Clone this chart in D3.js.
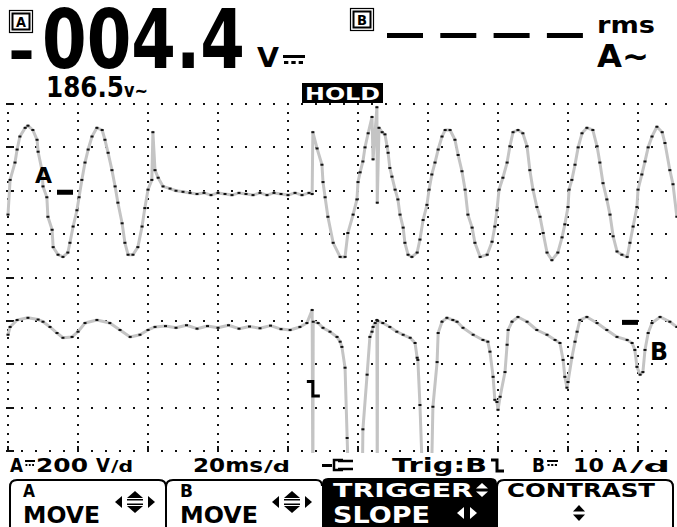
<!DOCTYPE html>
<html>
<head>
<meta charset="utf-8">
<script src="https://cdn.jsdelivr.net/npm/d3@7"></script>
<style>
    html, body { margin: 0; padding: 0; background: #fff; }
    svg { display: block; }
    text { font-family: 'DejaVu Sans', sans-serif; font-weight: bold; }
</style>
</head>
<body>
<script>
'use strict';

// channel A: [time ms, volts]
var traceA = [
    [0,-110],[0.6,50],[2.0,130],[2.6,190],[3.4,250],[4.9,290],[5.7,300],[7.1,280],[8.3,235],[8.6,180],
    [9.7,95],[10.0,20],[11.1,-30],[11.4,-120],[12.6,-180],[12.9,-260],[14.3,-295],[15.7,-305],[17.1,-285],
    [17.7,-240],[18.6,-165],[19.7,-90],[20.3,-30],[21.1,50],[22.0,130],[22.9,190],[24.0,250],[25.4,290],
    [26.9,280],[27.7,235],[28.6,175],[29.7,95],[30.6,20],[31.4,-55],[32.6,-150],[33.4,-240],[34.3,-295],
    [35.7,-295],[37.1,-260],[38.3,-165],[39.1,-80],[40.0,5],[41.1,50],[41.4,270],[42.0,95],[42.9,60],
    [44.3,20],[46.3,10],[48.0,0],[50.0,-5],[52,-10],[54,-15],[56,-10],[58,-20],[60,-10],[62,-15],[64,-20],
    [66,-10],[68,-15],[70,-20],[72,-10],[74,-20],[76,-10],[78,-15],[80,-20],[82,-10],[84,-20],[86,-10],
    [86.9,-15],[87.1,270],[88.3,195],[89.7,120],[90.0,40],[90.6,-30],[91.4,-120],[92.9,-240],[94.9,-305],
    [96.3,-305],[97.1,-195],[98.6,-110],[99.7,-40],[100.0,40],[100.6,85],[101.4,135],[102.0,200],[102.9,265],
    [104.0,340],[104.3,145],[105.4,385],[105.5,-55],[106.0,290],[106.9,270],[107.7,260],[108.3,205],
    [108.6,175],[109.1,105],[109.7,65],[110.6,5],[111.4,-40],[112.0,-110],[112.9,-170],[113.4,-240],
    [114.3,-295],[115.4,-305],[116.9,-285],[117.7,-225],[118.6,-135],[119.7,-65],[120.3,5],[121.1,75],
    [122.0,130],[122.9,190],[124.0,250],[124.9,280],[126.3,280],[127.7,235],[128.6,165],[129.7,90],
    [130.6,5],[131.4,-110],[132.6,-170],[133.4,-240],[134.9,-305],[136.9,-295],[138.3,-235],[139.1,-165],
    [139.7,-90],[140.3,5],[141.4,60],[142.6,130],[143.4,205],[144.3,270],[145.7,280],[147.1,265],[148.3,205],
    [149.1,95],[150.0,5],[151.1,-75],[152.0,-120],[152.9,-195],[154.0,-285],[155.4,-320],[157.1,-285],
    [158.3,-215],[159.1,-155],[160.0,-75],[160.3,5],[161.1,50],[162.0,120],[162.9,200],[164.0,265],
    [165.4,290],[167.1,280],[168.3,205],[169.1,130],[170.0,35],[171.1,-40],[172.0,-110],[172.9,-210],
    [174.0,-280],[175.4,-295],[176.9,-305],[177.7,-240],[178.6,-165],[179.7,-75],[180.0,5],[181.1,75],
    [182.0,135],[182.9,200],[184.0,250],[185.4,295],[186.9,270],[187.7,220],[189.1,95],[190.0,30],[191.1,-120]
];

// channel B: [time ms, amps]
var traceB = [
    [0,-3.2],[0.6,-1.4],[2.6,0.2],[5.7,0.7],[8.6,0.3],[10.0,-0.2],[12.0,-1.4],[14.0,-2.8],[15.7,-3.9],
    [18.3,-3.7],[20.0,-2.5],[22.0,-0.5],[25.4,0.2],[29.1,-0.5],[32.0,-2.1],[34.9,-3.7],[37.7,-3.2],[40.0,-2.1],
    [42.0,-1.4],[45,-1.2],[48,-1.6],[51,-1.0],[54,-1.8],[57,-1.2],[60,-1.6],[63,-1.0],[66,-1.8],[69,-1.3],
    [72,-1.7],[75,-1.1],[78,-1.9],[80.6,-2.1],[83.4,-1.4],[85.4,-0.5],[86.9,2.5],[87.1,-40],[87.2,-0.2],
    [88.6,-0.5],[90.0,-1.6],[92.0,-2.5],[94.0,-3.7],[94.9,-4.8],[95.4,-6.0],[96.3,-10.8],[96.9,-27],[97.4,-40],
    [101.2,-40],[101.4,-25],[102.6,-12.4],[103.4,-3.7],[104.0,-2.5],[104.3,-1.4],[104.9,-0.5],[105.4,0.2],
    [105.5,-40],[105.6,0.0],[107.1,-0.5],[109.1,-1.4],[111.1,-2.5],[112.9,-3.2],[114.9,-3.9],[116.3,-5.1],
    [116.9,-8.5],[117.1,-9.0],[117.7,-19.4],[118.6,-40],[120.9,-40],[121.4,-19.8],[122.6,-9.5],[122.9,-2.8],
    [124.0,-0.2],[125.4,0.7],[127.1,0.2],[128.3,-0.2],[130.0,-1.6],[132.9,-3.2],[135.7,-4.4],[137.1,-4.8],
    [137.7,-7.1],[138.6,-12.9],[139.1,-18.2],[139.7,-18.7],[140.0,-20.5],[140.6,-17.5],[142.0,-11.8],
    [142.6,-5.5],[142.9,-2.1],[144.0,-0.2],[145.7,0.9],[148.3,-0.2],[151.1,-2.1],[154.0,-3.2],[156.3,-4.4],
    [157.7,-5.1],[158.6,-9.0],[159.1,-12.9],[159.7,-15.4],[160.0,-14.1],[161.1,-8.5],[162.0,-4.8],
    [162.6,-2.5],[163.4,0.2],[165.4,0.9],[168.3,-0.5],[171.1,-2.1],[174.0,-3.7],[176.9,-4.4],[178.3,-5.1],
    [179.1,-6.7],[179.7,-10.6],[180.6,-12.4],[181.4,-11.8],[182.0,-6.7],[182.9,-2.8],[184.0,-0.5],
    [186.3,0.9],[189.1,-0.2],[191.1,-1.4]
];

var TRIGGER_TIME = 87.1;

// readout texts
var READING_A = '-004.4';
var READING_A_UNIT = 'V';
var READING_A_AC = '186.5';
var READING_A_AC_UNIT = 'v~';
var READING_B = '----';
var READING_B_MODE = 'rms';
var READING_B_UNIT = 'A~';
var HOLD_LABEL = 'HOLD';

var statusItems = ['A', '200', 'V', '20ms', 'Trig:B', 'B', '10', 'A'];
var softkeyTop = ['A', 'B', 'TRIGGER', 'CONTRAST'];
var softkeyBottom = ['MOVE', 'MOVE', 'SLOPE', ''];

var svg = d3.select('body').append('svg')
    .attr('width', 677)
    .attr('height', 527);

svg.append('rect')
    .attr('width', 677)
    .attr('height', 527)
    .attr('fill', '#fff');

// 10 x 20ms horizontally, 8 divisions vertically
var x = d3.scaleLinear().domain([0, 200]).range([8, 708]);
var yA = d3.scaleLinear().domain([-1200, 400]).range([451, 104]);
var yB = d3.scaleLinear().domain([-30, 50]).range([451, 104]);

// ---- dotted graticule ----
var grid = svg.append('g').attr('fill', '#111');

var majorT = d3.range(0, 201, 20),
    minorT = d3.range(0, 201, 4),
    majorV = d3.range(-1200, 401, 200),
    minorV = d3.range(-1200, 401, 40);

grid.selectAll('rect.vdot')
    .data(d3.cross(majorT, minorV))
    .enter().append('rect')
    .attr('class', 'vdot')
    .attr('x', function(d) { return Math.round(x(d[0])) - 1; })
    .attr('y', function(d) { return Math.round(yA(d[1])) - 1; })
    .attr('width', 2).attr('height', 2);

grid.selectAll('rect.hdot')
    .data(d3.cross(minorT, majorV))
    .enter().append('rect')
    .attr('class', 'hdot')
    .attr('x', function(d) { return Math.round(x(d[0])) - 1; })
    .attr('y', function(d) { return Math.round(yA(d[1])) - 1; })
    .attr('width', 2).attr('height', 2);

grid.selectAll('rect.ltick')
    .data(majorV)
    .enter().append('rect')
    .attr('class', 'ltick')
    .attr('x', x(0) - 2)
    .attr('y', function(d) { return Math.round(yA(d)) - 1; })
    .attr('width', 8).attr('height', 2);

grid.selectAll('rect.btick')
    .data(majorT)
    .enter().append('rect')
    .attr('class', 'btick')
    .attr('x', function(d) { return Math.round(x(d)) - 1; })
    .attr('y', yA(-1200) - 5)
    .attr('width', 2).attr('height', 5);

// ---- traces ----
svg.append('clipPath').attr('id', 'screen')
    .append('rect')
    .attr('x', 0).attr('y', 100)
    .attr('width', 677).attr('height', yA(-1200) + 2 - 100);

function drawTrace(data, yScale) {
    var g = svg.append('g').attr('clip-path', 'url(#screen)');
    var line = d3.line()
        .x(function(d) { return x(d[0]); })
        .y(function(d) { return yScale(d[1]); });

    g.append('path')
        .datum(data)
        .attr('d', line)
        .attr('fill', 'none')
        .attr('stroke', '#c4c4c4')
        .attr('stroke-width', 3)
        .attr('stroke-linejoin', 'round');

    g.selectAll('rect')
        .data(data)
        .enter().append('rect')
        .attr('x', function(d) { return x(d[0]) - 1.5; })
        .attr('y', function(d) { return yScale(d[1]) - 1; })
        .attr('width', 3).attr('height', 2)
        .attr('fill', '#111');
}

drawTrace(traceA, yA);
drawTrace(traceB, yB);

// ---- text helper ----
function fitText(sel, px, py, size, len, str, fill) {
    return sel.append('text')
        .attr('x', px).attr('y', py)
        .attr('font-size', size)
        .attr('textLength', len)
        .attr('lengthAdjust', 'spacingAndGlyphs')
        .style('fill', fill || '#000')
        .text(str);
}

// trace markers
fitText(svg, 35, 183, 22, 17, 'A');
svg.append('rect').attr('x', 57).attr('y', yA(0) - 1).attr('width', 16).attr('height', 5).attr('fill', '#000');

fitText(svg, 650, 360, 24, 18, 'B');
svg.append('rect').attr('x', 622).attr('y', yB(0) - 1).attr('width', 16).attr('height', 5).attr('fill', '#000');

function slopeSymbol(px, py, h, w) {
    return 'M' + (px - 6) + ',' + py + 'H' + px + 'V' + (py + h) + 'H' + (px + w);
}

svg.append('path')
    .attr('d', slopeSymbol(x(TRIGGER_TIME), 381.5, 14.5, 7))
    .attr('fill', 'none').attr('stroke', '#000').attr('stroke-width', 3);

// ---- header readouts ----
function channelIcon(px, py, label) {
    svg.append('rect').attr('x', px + 0.5).attr('y', py + 0.5).attr('width', 23).attr('height', 22)
        .attr('fill', 'none').attr('stroke', '#000').attr('stroke-width', 1.2);
    svg.append('rect').attr('x', px + 3.5).attr('y', py + 3.5).attr('width', 17).attr('height', 16)
        .attr('fill', 'none').attr('stroke', '#000').attr('stroke-width', 2);
    fitText(svg, px + 7, py + 17, 14, 10, label);
}

function dcSymbol(px, py, w, big) {
    var t = big ? 3 : 2;
    svg.append('rect').attr('x', px).attr('y', py).attr('width', w).attr('height', t).attr('fill', '#000');
    d3.range(3).forEach(function(i) {
        svg.append('rect')
            .attr('x', px + i * w / 3 + (big ? 1 : 0.5))
            .attr('y', py + t + (big ? 3 : 2))
            .attr('width', w / 3 - (big ? 3 : 1.5)).attr('height', t)
            .attr('fill', '#000');
    });
}

channelIcon(9, 10, 'A');
fitText(svg, 8, 72, 60, 27, READING_A.charAt(0));
fitText(svg, 42, 68, 82, 203, READING_A.slice(1));
fitText(svg, 257, 67, 27, 22, READING_A_UNIT);
dcSymbol(283, 55, 22, true);
fitText(svg, 46, 97, 29, 78, READING_A_AC);
fitText(svg, 124, 97, 19, 24, READING_A_AC_UNIT);

svg.append('rect').attr('x', 302).attr('y', 83).attr('width', 81).attr('height', 20).attr('fill', '#000');
fitText(svg, 305, 100, 17, 75, HOLD_LABEL, '#fff');

channelIcon(350, 8, 'B');
READING_B.split('').forEach(function(c, i) {
    svg.append('rect')
        .attr('x', 387 + i * 53.3).attr('y', 33)
        .attr('width', 36).attr('height', 5)
        .attr('fill', '#000');
});
fitText(svg, 597, 33, 23, 58, READING_B_MODE);
fitText(svg, 597, 67, 32, 52, READING_B_UNIT);

// ---- status line ----
var sy = 472;
fitText(svg, 10, sy, 19, 13, statusItems[0]);
dcSymbol(25, 460, 10, false);
fitText(svg, 36, sy, 19, 52, statusItems[1]);
fitText(svg, 96, sy, 19, 14, statusItems[2]);
fitText(svg, 111, sy, 15, 22, '/d');
fitText(svg, 193, sy, 19, 70, statusItems[3]);
fitText(svg, 264, sy, 15, 26, '/d');

// probe symbol
svg.append('rect').attr('x', 322).attr('y', 464).attr('width', 10).attr('height', 3).attr('fill', '#000');
svg.append('path').attr('d', 'M343,460H334V470H343M338,461H353M338,469H353')
    .attr('fill', 'none').attr('stroke', '#000').attr('stroke-width', 2.5);

fitText(svg, 392, sy, 19, 95, statusItems[4]);
svg.append('path')
    .attr('d', slopeSymbol(497, 460, 11, 7))
    .attr('fill', 'none').attr('stroke', '#000').attr('stroke-width', 3);

fitText(svg, 532, sy, 19, 13, statusItems[5]);
dcSymbol(547, 460, 11, false);
fitText(svg, 573, sy, 19, 31, statusItems[6]);
fitText(svg, 612, sy, 19, 15, statusItems[7]);
fitText(svg, 630, sy, 15, 40, '/d');

// ---- soft keys ----
var keys = svg.append('g');
keys.append('path')
    .attr('d', 'M10,527V487Q10,480 17,480H159Q166,480 166,487V527M166,487Q166,480 173,480H316Q322,480 322,486' +
        'M497,527V487Q497,480 504,480H666Q673,480 673,487V527')
    .attr('fill', 'none').attr('stroke', '#000').attr('stroke-width', 2);
keys.append('path')
    .attr('d', 'M322,527V484Q322,478 328,478H491Q497,478 497,484V527Z')
    .attr('fill', '#000');

var keyX = [23, 180, 333, 507];
var topLen = [12, 13, 140, 148];
var bottomLen = [77, 78, 97, 0];

softkeyTop.forEach(function(label, i) {
    var fill = i === 2 ? '#fff' : '#000';
    fitText(keys, keyX[i], 497, i < 2 ? 18 : 20, topLen[i], label, fill);
    if (softkeyBottom[i]) {
        fitText(keys, keyX[i], 523, 23, bottomLen[i], softkeyBottom[i], fill);
    }
});

function tri(pts, fill) {
    keys.append('path')
        .attr('d', 'M' + pts.map(function(p) { return p.join(','); }).join('L') + 'Z')
        .attr('fill', fill);
}

function moveArrows(cx, cy) {
    tri([[cx - 20, cy], [cx - 13, cy - 6], [cx - 13, cy + 6]], '#000');
    tri([[cx + 20, cy], [cx + 13, cy - 6], [cx + 13, cy + 6]], '#000');
    tri([[cx, cy - 11], [cx - 8, cy - 4], [cx + 8, cy - 4]], '#000');
    tri([[cx, cy + 11], [cx - 8, cy + 4], [cx + 8, cy + 4]], '#000');
    keys.append('rect').attr('x', cx - 8).attr('y', cy - 3).attr('width', 16).attr('height', 1.5).attr('fill', '#000');
    keys.append('rect').attr('x', cx - 8).attr('y', cy + 1.5).attr('width', 16).attr('height', 1.5).attr('fill', '#000');
}

function upDown(cx, cy, h, fill) {
    tri([[cx, cy - h], [cx - 6, cy - 1.5], [cx + 6, cy - 1.5]], fill);
    tri([[cx, cy + h], [cx - 6, cy + 1.5], [cx + 6, cy + 1.5]], fill);
}

moveArrows(135, 502);
moveArrows(292, 502);
upDown(482, 490, 7, '#fff');
tri([[457, 513], [464, 507], [464, 519]], '#fff');
tri([[477, 513], [470, 507], [470, 519]], '#fff');
upDown(579, 513, 8, '#000');
</script>
</body>
</html>
